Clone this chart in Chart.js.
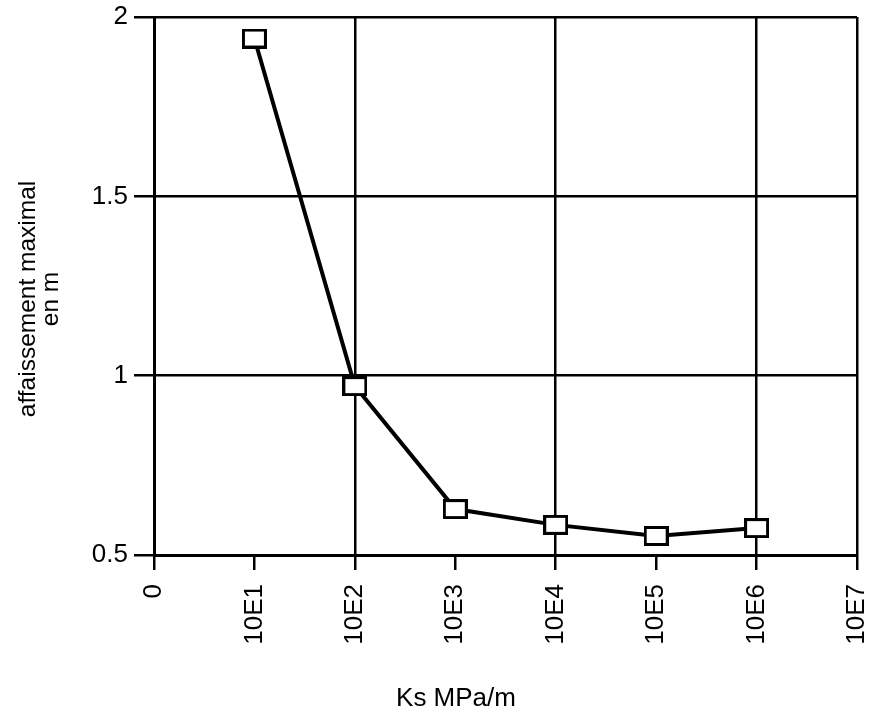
<!DOCTYPE html>
<html>
<head>
<meta charset="utf-8">
<script src="https://cdn.jsdelivr.net/npm/chart.js@4"></script>
<style>
  html, body { margin: 0; padding: 0; background: #fff; }
  #wrap { width: 880px; height: 713px; }
</style>
</head>
<body>
<div id="wrap"><canvas id="graph" width="880" height="713"></canvas></div>
<script>
// values
const xTickLabels = ['0', '10E1', '10E2', '10E3', '10E4', '10E5', '10E6', '10E7'];
const yTickLabels = { 0.5: '0.5', 1: '1', 1.5: '1.5', 2: '2' };
const ksIndex = [1, 2, 3, 4, 5, 6];
const affaissement = [1.94, 0.971, 0.628, 0.584, 0.553, 0.575];

const xTitle = 'Ks MPa/m';
const yTitle = ['affaissement maximal', 'en m'];

const FONT = '"Liberation Sans", Arial, Helvetica, sans-serif';

// open rectangle marker
function makeMarker() {
    const c = document.createElement('canvas');
    c.width = 25; c.height = 20;
    const g = c.getContext('2d');
    g.fillStyle = '#fff';
    g.fillRect(0, 0, 25, 20);
    g.strokeStyle = '#000';
    g.lineWidth = 3;
    g.strokeRect(1.5, 1.5, 22, 17);
    return c;
}

// axis titles placed where the scan has them
const titles = {
    id: 'titles',
    afterDraw(chart) {
        const ctx = chart.ctx;
        ctx.save();
        ctx.fillStyle = '#000';
        ctx.font = '26px ' + FONT;
        ctx.textAlign = 'center';
        ctx.textBaseline = 'middle';
        ctx.fillText(xTitle, 456, 699);
        ctx.font = '24.5px ' + FONT;
        ctx.translate(0, 299);
        ctx.rotate(-Math.PI / 2);
        ctx.textBaseline = 'alphabetic';
        ctx.fillText(yTitle[0], 0, 35);
        ctx.fillText(yTitle[1], 0, 58);
        ctx.restore();
    }
};

const points = ksIndex.map((x, i) => ({ x: x, y: affaissement[i] }));
const shownX = [0, 2, 4, 6, 7];

new Chart(document.getElementById('graph').getContext('2d'), {
    type: 'line',
    data: {
        datasets: [{
            data: points,
            borderColor: '#000',
            borderWidth: 4,
            pointStyle: makeMarker(),
            tension: 0,
            fill: false
        }]
    },
    options: {
        responsive: false,
        animation: false,
        layout: { padding: { top: 17, right: 23, left: 0, bottom: 0 } },
        plugins: { legend: { display: false }, tooltip: { enabled: false } },
        scales: {
            x: {
                type: 'linear',
                min: 0,
                max: 7,
                afterFit: s => { s.height = 158; s.paddingLeft = 0; s.paddingRight = 0; },
                ticks: {
                    stepSize: 1,
                    autoSkip: false,
                    minRotation: 90,
                    maxRotation: 90,
                    padding: 14,
                    color: '#000',
                    font: { family: FONT, size: 26 },
                    callback: v => xTickLabels[v]
                },
                grid: {
                    color: c => shownX.includes(c.tick && c.tick.value) ? '#000' : 'rgba(0,0,0,0)',
                    tickColor: '#000',
                    lineWidth: 2.5,
                    tickLength: 15
                },
                border: { display: true, color: '#000', width: 3 }
            },
            y: {
                min: 0.5,
                max: 2,
                afterFit: s => { s.width = 154; s.paddingTop = 0; s.paddingBottom = 0; },
                ticks: {
                    stepSize: 0.5,
                    padding: 6,
                    color: '#000',
                    font: { family: FONT, size: 26 },
                    callback: v => yTickLabels[v]
                },
                grid: {
                    color: '#000',
                    tickColor: '#000',
                    lineWidth: 2.5,
                    tickLength: 20
                },
                border: { display: true, color: '#000', width: 3 }
            }
        }
    },
    plugins: [titles]
});
</script>
</body>
</html>
